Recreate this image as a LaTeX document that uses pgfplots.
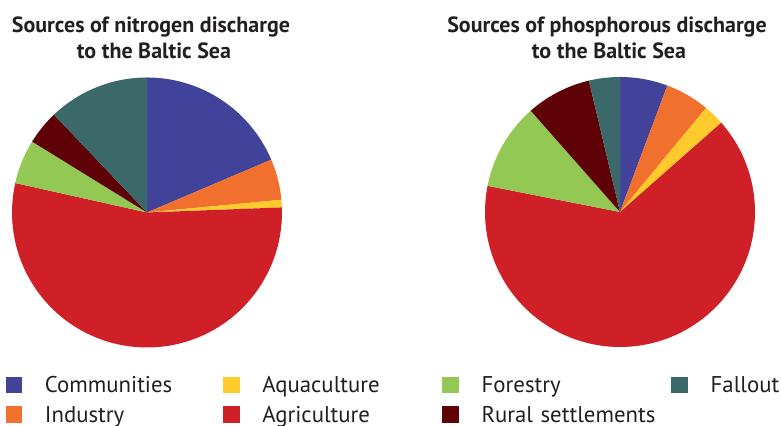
\documentclass[border=0pt]{standalone}
\usepackage{pgfplots}
\pgfplotsset{compat=1.18}
\usepackage{fontspec}
\setmainfont{PT Sans}

\definecolor{cComm}{HTML}{41439A}
\definecolor{cInd}{HTML}{F2702D}
\definecolor{cAqua}{HTML}{FFCA2B}
\definecolor{cAgri}{HTML}{D02027}
\definecolor{cFor}{HTML}{92C853}
\definecolor{cRur}{HTML}{5E0208}
\definecolor{cFall}{HTML}{3B6869}
\definecolor{txt}{HTML}{231F20}

% one pie slice: centre x, centre y, share in %, colour, extra options
% slices run clockwise from 12 o'clock; \cum holds the running total
\def\cum{0}
\newcommand\slice[5]{%
  \pgfmathsetmacro\sa{90-3.6*\cum}%
  \pgfmathsetmacro\se{90-3.6*(\cum+#3)}%
  \addplot[draw=none, fill=#4, domain=\se:\sa, samples=100, #5]
    ({#1+135*cos(x)},{#2+135*sin(x)}) -- (axis cs:#1,#2) -- cycle;
  \pgfmathsetmacro\newcum{\cum+#3}\global\let\cum\newcum}

\begin{document}
\begin{tikzpicture}
\begin{axis}[
    name=ax,
    scale only axis,
    width=390.5pt, height=213pt,
    xmin=0, xmax=781, ymin=0, ymax=426,
    hide axis, clip=false,
    legend columns=2, transpose legend,
    legend image code/.code={\fill[#1] (0pt,-0.5pt) rectangle (8.4pt,7.9pt);},
    legend style={draw=none, fill=none, inner sep=0pt, outer sep=0pt,
      at={(axis cs:5.5,52.5)}, anchor=north west,
      font=\fontsize{11.4}{14}\selectfont, text=txt,
      cells={anchor=base west},
      nodes={inner sep=0pt, text width=86pt, text height=9.5pt, text depth=3pt},
      row sep=2.4pt,
      /tikz/every odd column/.append style={column sep=11.3pt},
      /tikz/column 2/.style={column sep=3pt},
      /tikz/column 4/.style={column sep=4pt},
      /tikz/column 6/.style={column sep=8.8pt}},
  ]
% nitrogen
\def\cum{0}
\slice{147}{213.5}{18.6}{cComm}{}\addlegendentry{Communities}
\slice{147}{213.5}{4.9}{cInd}{}\addlegendentry{Industry}
\slice{147}{213.5}{0.9}{cAqua}{}\addlegendentry{Aquaculture}
\slice{147}{213.5}{54.1}{cAgri}{}\addlegendentry{Agriculture}
\slice{147}{213.5}{5.3}{cFor}{}\addlegendentry{Forestry}
\slice{147}{213.5}{4.1}{cRur}{}\addlegendentry{\mbox{Rural settlements}}
\slice{147}{213.5}{12.1}{cFall}{}\addlegendentry{Fallout}
% phosphorous
\gdef\cum{0}
\slice{620}{214}{5.7}{cComm}{forget plot}
\slice{620}{214}{5.3}{cInd}{forget plot}
\slice{620}{214}{2.5}{cAqua}{forget plot}
\slice{620}{214}{64.6}{cAgri}{forget plot}
\slice{620}{214}{10.4}{cFor}{forget plot}
\slice{620}{214}{7.8}{cRur}{forget plot}
\slice{620}{214}{3.7}{cFall}{forget plot}

\node[anchor=base, font=\bfseries\fontsize{11}{13}\selectfont, text=txt] at (axis cs:151,393) {Sources of nitrogen discharge};
\node[anchor=base, font=\bfseries\fontsize{11}{13}\selectfont, text=txt] at (axis cs:154,367) {to the Baltic Sea};
\node[anchor=base, font=\bfseries\fontsize{11}{13}\selectfont, text=txt] at (axis cs:607,393) {Sources of phosphorous discharge};
\node[anchor=base, font=\bfseries\fontsize{11}{13}\selectfont, text=txt] at (axis cs:609,367) {to the Baltic Sea};
\end{axis}
\pgfresetboundingbox
\useasboundingbox (ax.south west) rectangle (ax.north east);
\end{tikzpicture}
\end{document}
